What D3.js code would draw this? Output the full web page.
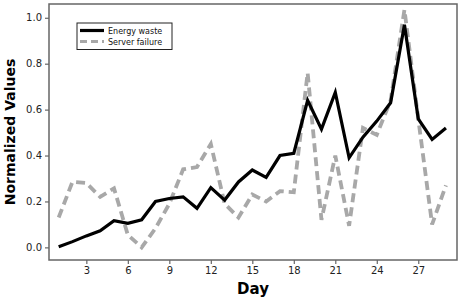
<!DOCTYPE html>
<html><head><meta charset="utf-8">
<script src="https://cdn.jsdelivr.net/npm/d3@7"></script>
<style>body{margin:0;background:#fff}svg{display:block}</style>
</head><body>
<svg id="c" width="463" height="298"></svg>
<script>
const days = d3.range(1, 30);
const energyWaste = [0.003,0.025,0.05,0.072,0.116,0.105,0.12,0.20,0.213,0.22,0.17,0.26,0.206,0.285,0.337,0.305,0.40,0.41,0.64,0.515,0.675,0.39,0.48,0.55,0.63,0.97,0.56,0.47,0.52];
const serverFailure = [0.13,0.286,0.28,0.22,0.257,0.054,0.0,0.083,0.19,0.34,0.35,0.45,0.19,0.13,0.23,0.20,0.245,0.24,0.76,0.12,0.40,0.094,0.52,0.49,0.64,1.035,0.56,0.10,0.27];
const xTicks = [3,6,9,12,15,18,21,24,27];
const yTicks = [0,0.2,0.4,0.6,0.8,1.0];
const seriesNames = ["Energy waste","Server failure"];

const svg = d3.select("#c");
const L = 49, R = 457, T = 4, B = 260;
const x = d3.scaleLinear().domain([0.3, 29.8]).range([L, R]);
const y = d3.scaleLinear().domain([-0.055, 1.06]).range([B, T]);

const font = "Tahoma, 'DejaVu Sans', Verdana, sans-serif";

// axes
const xa = svg.append("g").attr("transform", `translate(0,${B})`)
  .call(d3.axisBottom(x).tickValues(xTicks).tickSize(4).tickPadding(3).tickFormat(d3.format("d")));
const ya = svg.append("g").attr("transform", `translate(${L},0)`)
  .call(d3.axisLeft(y).tickValues(yTicks).tickSize(4).tickPadding(3).tickFormat(d3.format(".1f")));
[xa, ya].forEach(a => {
  a.select(".domain").remove();
  a.selectAll("line").attr("stroke", "#666").attr("stroke-width", 1.2);
  a.selectAll("text").attr("fill", "#222").style("font-family", font).style("font-size", "10px");
});

// frame
svg.append("rect").attr("x", L).attr("y", T).attr("width", R - L).attr("height", B - T)
  .attr("fill", "none").attr("stroke", "#666").attr("stroke-width", 1.5);

const line = d3.line().x((d, i) => x(days[i])).y(d => y(d));
svg.append("path").datum(serverFailure).attr("d", line)
  .attr("fill", "none").attr("stroke", "#a8a8a8").attr("stroke-width", 3.8)
  .attr("stroke-dasharray", "9,5").attr("stroke-linejoin", "miter");
svg.append("path").datum(energyWaste).attr("d", line)
  .attr("fill", "none").attr("stroke", "#000").attr("stroke-width", 3.2)
  .attr("stroke-linejoin", "miter");

// legend
const lg = svg.append("g");
lg.append("rect").attr("x", 77).attr("y", 23).attr("width", 95).attr("height", 26.5)
  .attr("fill", "#fff").attr("stroke", "#222").attr("stroke-width", 1);
lg.append("line").attr("x1", 80).attr("x2", 104).attr("y1", 30.5).attr("y2", 30.5)
  .attr("stroke", "#000").attr("stroke-width", 3.2);
lg.append("line").attr("x1", 80).attr("x2", 104).attr("y1", 41.5).attr("y2", 41.5)
  .attr("stroke", "#a8a8a8").attr("stroke-width", 3).attr("stroke-dasharray", "7,4");
lg.selectAll("text").data(seriesNames).join("text")
  .attr("x", 108).attr("y", (d, i) => 33.5 + i * 11)
  .text(d => d).attr("fill", "#111")
  .style("font-family", font).style("font-size", "8px");

// axis titles
svg.append("text").attr("x", (L + R) / 2).attr("y", 294).attr("text-anchor", "middle")
  .text("Day").style("font-family", font).style("font-size", "15px").style("font-weight", "bold");
svg.append("text").attr("transform", `translate(15,${(T + B) / 2}) rotate(-90)`)
  .attr("text-anchor", "middle").text("Normalized Values")
  .style("font-family", font).style("font-size", "14px").style("font-weight", "bold");
</script>
</body></html>
